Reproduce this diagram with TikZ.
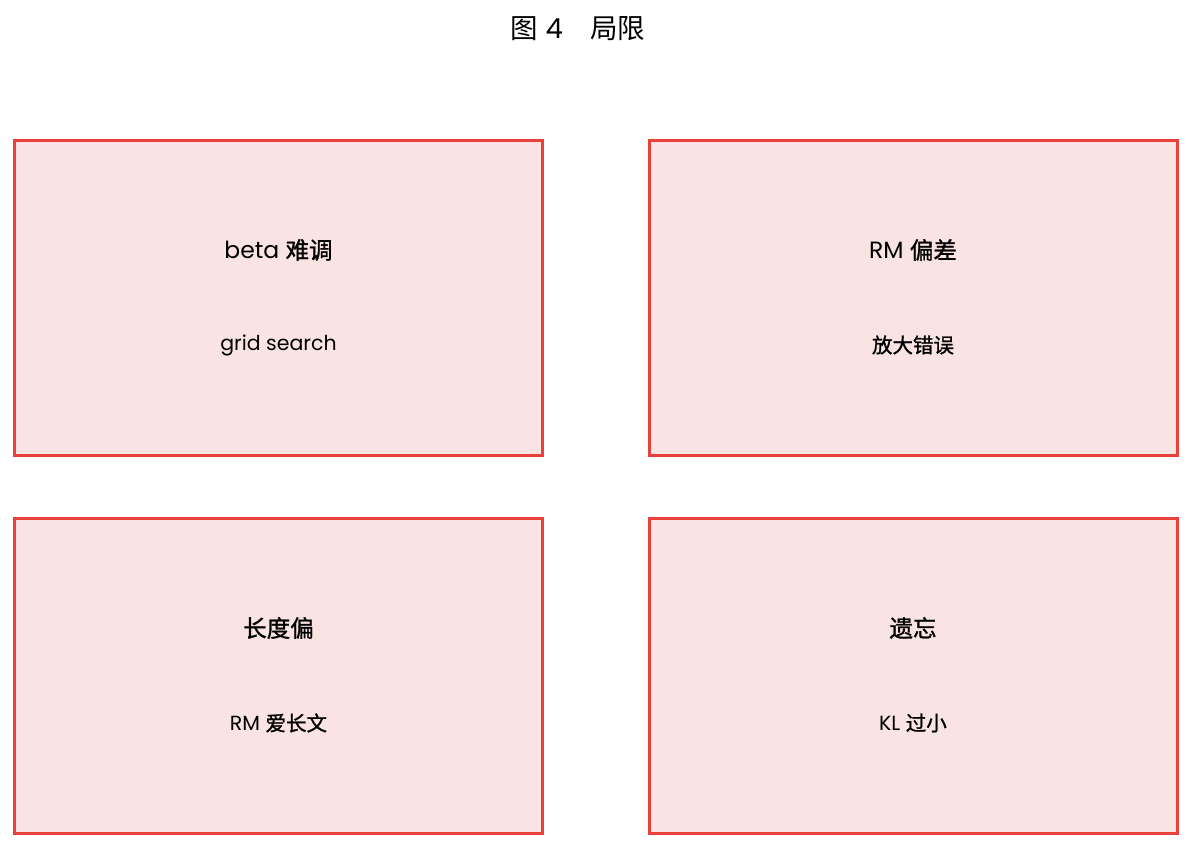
\documentclass[tikz,border=0pt]{standalone}
\usepackage{fontspec}
\setmainfont{Poppins}
\newfontfamily\cjk{Noto Sans CJK SC}
\newfontfamily\cjkb{Noto Sans CJK SC}[FakeBold=1.2]
\definecolor{boxred}{HTML}{E8403B}
\definecolor{boxfill}{HTML}{F9E3E3}
\tikzset{limitbox/.style={draw=boxred,fill=boxfill,line width=3pt,minimum width=528pt,minimum height=315pt,inner sep=0pt},
  head/.style={font=\fontsize{23.5}{28}\selectfont},
  sub/.style={font=\fontsize{20.5}{24}\selectfont}}
\begin{document}
\begin{tikzpicture}[x=1pt,y=-1pt]
\useasboundingbox (0,0) rectangle (1192,849);
\node[font=\fontsize{27.5}{32}\selectfont] (title) at (578,29) {{\cjk 图} 4{\cjk 　局限}};

\node[limitbox] (B1) at (278.5,298) {};
\node[limitbox] (B2) at (913,298) {};
\node[limitbox] (B3) at (278.5,676) {};
\node[limitbox] (B4) at (913,676) {};

\node[head] (h1) at (278.5,250) {beta {\cjkb 难调}};
\node[sub] (s1) at (278.5,345) {grid search};
\node[head] (h2) at (913,250) {RM {\cjkb 偏差}};
\node[sub] (s2) at (913,345) {\cjkb 放大错误};
\node[head] (h3) at (278.5,628) {\cjkb 长度偏};
\node[sub] (s3) at (278.5,723) {RM {\cjkb 爱长文}};
\node[head] (h4) at (913,628) {\cjkb 遗忘};
\node[sub] (s4) at (913,723) {KL {\cjkb 过小}};
\end{tikzpicture}
\end{document}
